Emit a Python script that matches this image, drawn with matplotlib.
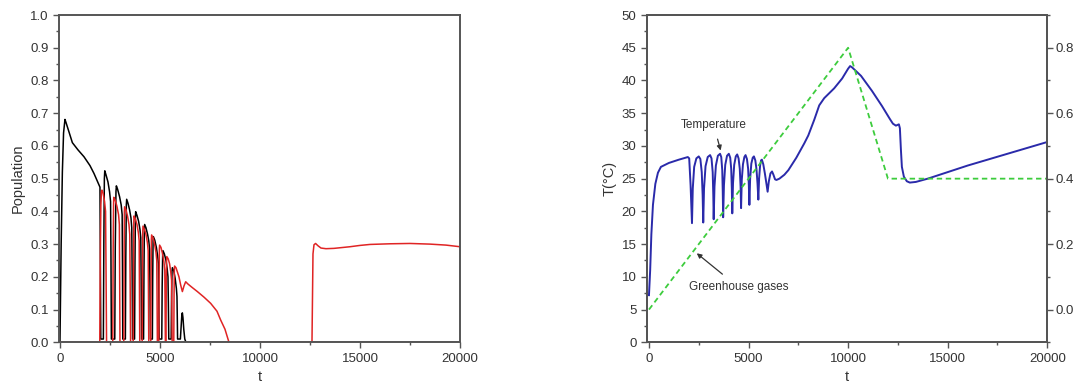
import numpy as np
import matplotlib.pyplot as plt
from matplotlib.ticker import MultipleLocator

# -------------------------
# Population curves (left panel)
# -------------------------
pop1_t = [0, 60, 120, 180, 250, 300, 450, 620, 900, 1200, 1500, 1700, 2000,
          2040, 2170, 2195, 2220, 2240, 2300, 2400, 2480, 2530, 2550, 2570,
          2740, 2765, 2800, 2820, 2880, 2980, 3060, 3110, 3125, 3140,
          3270, 3292, 3318, 3335, 3400, 3480, 3550, 3590, 3610, 3630,
          3730, 3750, 3770, 3785, 3850, 3930, 4000, 4040, 4060, 4080,
          4180, 4200, 4220, 4235, 4300, 4380, 4440, 4480, 4500, 4520,
          4620, 4637, 4655, 4670, 4740, 4820, 4880, 4920, 4940, 4960,
          5090, 5110, 5135, 5150, 5220, 5300, 5360, 5400, 5420, 5440,
          5560, 5580, 5603, 5620, 5690, 5760, 5820, 5850, 5865, 5880,
          6020, 6060, 6095, 6120, 6150, 6190, 6240, 6300, 20000]
pop1_v = [0.0, 0.30, 0.52, 0.64, 0.681, 0.672, 0.643, 0.610, 0.588, 0.567, 0.540, 0.516, 0.474,
          0.01, 0.01, 0.32, 0.50, 0.524, 0.512, 0.49, 0.46, 0.43, 0.26, 0.01,
          0.01, 0.29, 0.46, 0.478, 0.468, 0.445, 0.42, 0.39, 0.24, 0.01,
          0.01, 0.26, 0.42, 0.437, 0.425, 0.405, 0.38, 0.35, 0.21, 0.01,
          0.01, 0.24, 0.38, 0.399, 0.388, 0.37, 0.345, 0.32, 0.19, 0.01,
          0.01, 0.22, 0.345, 0.360, 0.35, 0.33, 0.31, 0.285, 0.17, 0.01,
          0.01, 0.20, 0.31, 0.323, 0.312, 0.29, 0.265, 0.24, 0.14, 0.01,
          0.01, 0.17, 0.268, 0.280, 0.27, 0.25, 0.225, 0.20, 0.12, 0.01,
          0.01, 0.14, 0.218, 0.228, 0.218, 0.195, 0.165, 0.14, 0.08, 0.01,
          0.01, 0.05, 0.085, 0.09, 0.075, 0.04, 0.01, 0.0, 0.0]

pop2_t = [0, 1990, 2015, 2045, 2075, 2100, 2160, 2230, 2280, 2300, 2330,
          2640, 2660, 2680, 2690, 2760, 2850, 2930, 2970, 2985, 3000,
          3190, 3208, 3222, 3232, 3300, 3380, 3450, 3490, 3510, 3530,
          3660, 3678, 3692, 3702, 3770, 3850, 3920, 3960, 3975, 3990,
          4110, 4127, 4141, 4152, 4220, 4300, 4370, 4410, 4425, 4440,
          4540, 4557, 4571, 4582, 4650, 4730, 4800, 4840, 4855, 4870,
          4940, 4957, 4970, 4982, 5050, 5130, 5200, 5240, 5255, 5270,
          5300, 5316, 5330, 5342, 5410, 5480, 5540, 5580, 5595, 5610,
          5690, 5705, 5720, 5732, 5800, 5870, 5950, 6035, 6120, 6200, 6285,
          6400, 6600, 6870, 7200, 7535, 7850, 8035, 8250, 8450,
          12600, 12650, 12700, 12780, 12900, 13050, 13300, 13700,
          14500, 15000, 15500, 16500, 17500, 18500, 19300, 20000]
pop2_v = [0.0, 0.0, 0.25, 0.42, 0.46, 0.465, 0.455, 0.43, 0.40, 0.25, 0.0,
          0.0, 0.28, 0.42, 0.443, 0.435, 0.415, 0.39, 0.36, 0.20, 0.0,
          0.0, 0.27, 0.40, 0.414, 0.405, 0.385, 0.36, 0.33, 0.18, 0.0,
          0.0, 0.25, 0.37, 0.386, 0.377, 0.36, 0.335, 0.31, 0.17, 0.0,
          0.0, 0.23, 0.34, 0.355, 0.346, 0.33, 0.305, 0.28, 0.15, 0.0,
          0.0, 0.21, 0.315, 0.328, 0.32, 0.30, 0.275, 0.25, 0.14, 0.0,
          0.0, 0.19, 0.285, 0.297, 0.29, 0.27, 0.245, 0.22, 0.12, 0.0,
          0.0, 0.17, 0.25, 0.262, 0.255, 0.24, 0.215, 0.19, 0.10, 0.0,
          0.0, 0.15, 0.225, 0.233, 0.228, 0.215, 0.20, 0.175, 0.155, 0.172, 0.185,
          0.178, 0.168, 0.155, 0.138, 0.119, 0.095, 0.068, 0.04, 0.0,
          0.0, 0.27, 0.298, 0.302, 0.295, 0.288, 0.286, 0.287,
          0.292, 0.296, 0.299, 0.301, 0.302, 0.300, 0.297, 0.292]

# -------------------------
# Temperature and greenhouse gases (right panel)
# -------------------------
temp_t = [0, 60, 120, 200, 320, 450, 600, 1000, 1500, 1950,
          2020, 2090, 2160,
          2200, 2270, 2380, 2500, 2580, 2650, 2695, 2725,
          2765, 2840, 2950, 3070, 3140, 3200, 3230, 3250,
          3290, 3360, 3460, 3570, 3630, 3680, 3705, 3725,
          3765, 3830, 3920, 4010, 4080, 4130, 4160, 4183,
          4220, 4280, 4360, 4430, 4500, 4560, 4600, 4625,
          4660, 4720, 4790, 4850, 4920, 4980, 5015, 5042,
          5080, 5140, 5210, 5270, 5340, 5400, 5450, 5492,
          5530, 5580, 5630, 5670, 5740, 5820, 5900, 5958,
          6020, 6100, 6180, 6250, 6330, 6400,
          6550, 6800, 7000, 7400, 7800, 8000, 8300, 8550, 8800, 9300, 9700, 10000,
          10100, 10200, 10650, 11200, 11700, 12100, 12250, 12400, 12550,
          12600, 12650, 12700, 12800, 12950, 13100, 13400, 14000,
          15000, 16000, 17000, 18000, 19000, 20000]
temp_v = [7.2, 11.0, 16.5, 21.0, 24.2, 25.9, 26.8, 27.4, 27.9, 28.3,
          28.1, 24.0, 18.2,
          23.5, 26.8, 28.1, 28.4, 28.0, 26.0, 22.5, 18.3,
          23.5, 26.9, 28.3, 28.6, 28.1, 26.0, 22.5, 18.8,
          23.8, 27.0, 28.5, 28.8, 28.3, 26.3, 23.0, 19.1,
          24.0, 27.1, 28.5, 28.8, 28.2, 26.5, 23.5, 19.7,
          24.3, 27.1, 28.4, 28.7, 28.1, 26.5, 23.8, 20.5,
          24.8, 27.2, 28.3, 28.6, 28.0, 26.5, 24.0, 21.0,
          25.0, 27.3, 28.2, 28.4, 27.8, 26.4, 24.3, 21.8,
          25.0, 27.0, 27.8, 27.9, 27.2, 25.8, 24.2, 23.0,
          24.6, 25.8, 26.1, 25.6, 24.9, 24.8,
          25.0, 25.6, 26.3, 28.2, 30.4, 31.6, 34.0, 36.2, 37.3, 38.8, 40.3, 41.8,
          42.2, 42.0, 40.7, 38.4, 36.1, 34.1, 33.4, 33.1, 33.3,
          32.7, 29.5, 26.8, 25.3, 24.6, 24.4, 24.5, 25.0,
          26.0, 27.0, 27.9, 28.8, 29.7, 30.6]

gas_t = [0, 10000, 12000, 20000]
gas_v = [0.0, 0.8, 0.4, 0.4]

# -------------------------
# Plotting
# -------------------------
plt.rcParams['font.family'] = ['Liberation Sans', 'DejaVu Sans']
plt.rcParams['font.size'] = 9.5
txt_col = '#333333'
spine_col = '#555555'

fig = plt.figure(figsize=(10.74, 3.87), dpi=100)
ax1 = fig.add_axes([0.0549, 0.1155, 0.3734, 0.8457])
ax2 = fig.add_axes([0.6024, 0.1155, 0.3727, 0.8457])


def style_axes(ax):
    for s in ax.spines.values():
        s.set_color(spine_col)
        s.set_linewidth(1.4)
    ax.tick_params(which='both', direction='out', colors=spine_col,
                   labelcolor=txt_col, width=1.0)
    ax.tick_params(which='major', length=4)
    ax.tick_params(which='minor', length=2.5)
    ax.tick_params(top=False, right=False, which='both')


# Population panel
ax1.plot(pop1_t, pop1_v, color='black', lw=1.1)
ax1.plot(pop2_t, pop2_v, color='#e02424', lw=1.1)
ax1.set_xlim(-50, 20000)
ax1.set_ylim(0, 1.0)
ax1.xaxis.set_major_locator(MultipleLocator(5000))
ax1.xaxis.set_minor_locator(MultipleLocator(2500))
ax1.yaxis.set_major_locator(MultipleLocator(0.1))
ax1.yaxis.set_minor_locator(MultipleLocator(0.05))
ax1.set_xlabel('t', fontsize=10.5, color=txt_col)
ax1.set_ylabel('Population', fontsize=10.5, color=txt_col)
style_axes(ax1)

# Temperature panel
ax2.plot(temp_t, temp_v, color='#2a2aaa', lw=1.4, zorder=3)
ax2.set_xlim(-100, 20000)
ax2.set_ylim(0, 50)
ax2.xaxis.set_major_locator(MultipleLocator(5000))
ax2.xaxis.set_minor_locator(MultipleLocator(2500))
ax2.yaxis.set_major_locator(MultipleLocator(5))
ax2.yaxis.set_minor_locator(MultipleLocator(2.5))
ax2.set_xlabel('t', fontsize=10.5, color=txt_col)
ax2.set_ylabel('T(°C)', fontsize=10.5, color=txt_col)
style_axes(ax2)

ax3 = ax2.twinx()
ax3.plot(gas_t, gas_v, color='#3dcc3d', lw=1.3, ls=(0, (3, 2)), zorder=2)
ax3.set_ylim(-0.1, 0.9)
ax3.yaxis.set_major_locator(MultipleLocator(0.2))
ax3.yaxis.set_minor_locator(MultipleLocator(0.1))
ax3.yaxis.set_major_formatter(plt.FormatStrFormatter('%.1f'))
for s in ax3.spines.values():
    s.set_color(spine_col)
    s.set_linewidth(1.4)
ax3.tick_params(which='both', direction='out', colors=spine_col,
                labelcolor=txt_col, width=1.0, pad=2)
ax3.tick_params(which='major', length=4)
ax3.tick_params(which='minor', length=2.5)

ax2.annotate('Temperature', xy=(3600, 29.3), xytext=(3250, 33.2),
             ha='center', va='center', fontsize=8.5, color=txt_col,
             arrowprops=dict(arrowstyle='-|>', color='#333333', lw=0.9,
                             mutation_scale=7, shrinkA=4, shrinkB=0))
ax2.annotate('Greenhouse gases', xy=(2400, 13.6), xytext=(4500, 8.4),
             ha='center', va='center', fontsize=8.5, color=txt_col,
             arrowprops=dict(arrowstyle='-|>', color='#333333', lw=0.9,
                             mutation_scale=7, shrinkA=5, shrinkB=0))

plt.savefig('out.png', dpi=100)
